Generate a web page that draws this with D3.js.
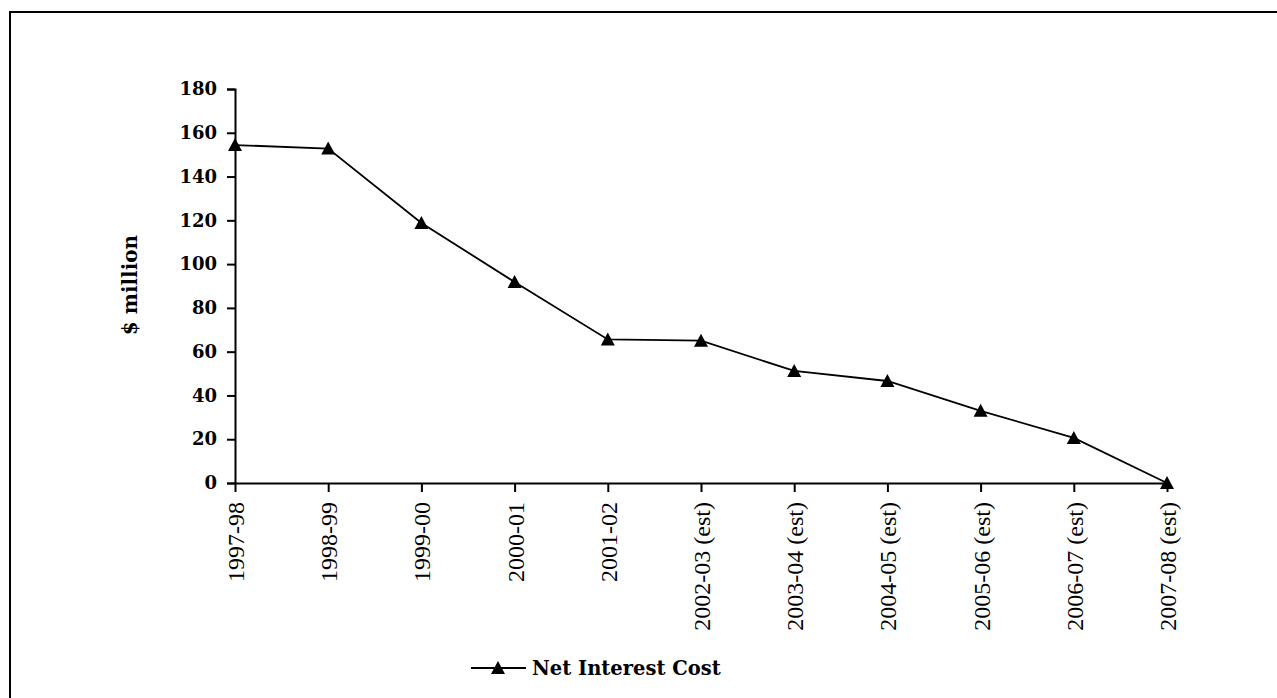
<!DOCTYPE html>
<html>
<head>
<meta charset="utf-8">
<script src="https://cdn.jsdelivr.net/npm/d3@7"></script>
<style>
  html, body { margin: 0; padding: 0; background: #fff; }
  svg { display: block; }
</style>
</head>
<body>
<svg id="chart" width="1277" height="698"></svg>
<script>
const categories = ["1997-98", "1998-99", "1999-00", "2000-01", "2001-02",
  "2002-03 (est)", "2003-04 (est)", "2004-05 (est)", "2005-06 (est)", "2006-07 (est)", "2007-08 (est)"];
const netInterestCost = [154.4, 152.8, 118.8, 91.8, 65.6, 65.0, 51.2, 46.6, 33.0, 20.6, 0];
const yTicks = [0, 20, 40, 60, 80, 100, 120, 140, 160, 180];
const seriesName = "Net Interest Cost";
const yTitle = "$ million";

const svg = d3.select("#chart");
const font = "'Liberation Serif', 'Times New Roman', serif";
const boldFont = "'DejaVu Serif', 'Century Schoolbook', serif";

// outer frame
svg.append("rect")
  .attr("x", 10).attr("y", 12)
  .attr("width", 1300).attr("height", 720)
  .attr("fill", "none").attr("stroke", "#000").attr("stroke-width", 2);

const x = d3.scalePoint().domain(categories).range([235, 1167]).padding(0);
const y = d3.scaleLinear().domain([0, 180]).range([483, 89]);

// Y axis
const yAxis = d3.axisLeft(y).tickValues(yTicks).tickSize(8).tickPadding(10).tickFormat(d3.format("d"));
const gy = svg.append("g").attr("transform", "translate(235,0)").call(yAxis);
gy.select(".domain").attr("stroke", "#000").attr("stroke-width", 2);
gy.selectAll(".tick line").attr("stroke", "#000").attr("stroke-width", 2);
gy.selectAll(".tick text")
  .attr("font-family", boldFont).attr("font-size", 18).attr("font-weight", "bold").attr("fill", "#000");

// X axis
const xAxis = d3.axisBottom(x).tickSize(9).tickPadding(0).tickSizeOuter(0);
const gx = svg.append("g").attr("transform", "translate(0,483)").call(xAxis);
gx.select(".domain").attr("stroke", "#000").attr("stroke-width", 2);
gx.selectAll(".tick line").attr("stroke", "#000").attr("stroke-width", 2);
gx.selectAll(".tick text")
  .attr("font-family", font).attr("font-size", 24).attr("fill", "#000")
  .attr("transform", "rotate(-90)")
  .attr("text-anchor", "end")
  .attr("x", -19).attr("y", 0).attr("dy", "0.35em");

// Y title
svg.append("text")
  .attr("transform", "translate(137,285) rotate(-90)")
  .attr("text-anchor", "middle")
  .attr("font-family", boldFont).attr("font-size", 20).attr("font-weight", "bold")
  .text(yTitle);

// series line
const line = d3.line().x((d, i) => x(categories[i])).y(d => y(d));
svg.append("path")
  .datum(netInterestCost)
  .attr("d", line)
  .attr("fill", "none").attr("stroke", "#000").attr("stroke-width", 1.8);

// triangle markers
const tri = "M0,-7L7,6L-7,6Z";
svg.append("g").selectAll("path")
  .data(netInterestCost)
  .join("path")
  .attr("d", tri)
  .attr("transform", (d, i) => `translate(${x(categories[i])},${y(d)})`)
  .attr("fill", "#000");

// legend
const lg = svg.append("g").attr("transform", "translate(471,668)");
lg.append("line").attr("x1", 0).attr("x2", 55).attr("y1", 0).attr("y2", 0)
  .attr("stroke", "#000").attr("stroke-width", 1.8);
lg.append("path").attr("d", tri).attr("transform", "translate(27,0)").attr("fill", "#000");
lg.append("text").attr("x", 61).attr("y", 0).attr("dy", "0.35em")
  .attr("font-family", boldFont).attr("font-size", 19.5).attr("font-weight", "bold")
  .text(seriesName);
</script>
</body>
</html>
